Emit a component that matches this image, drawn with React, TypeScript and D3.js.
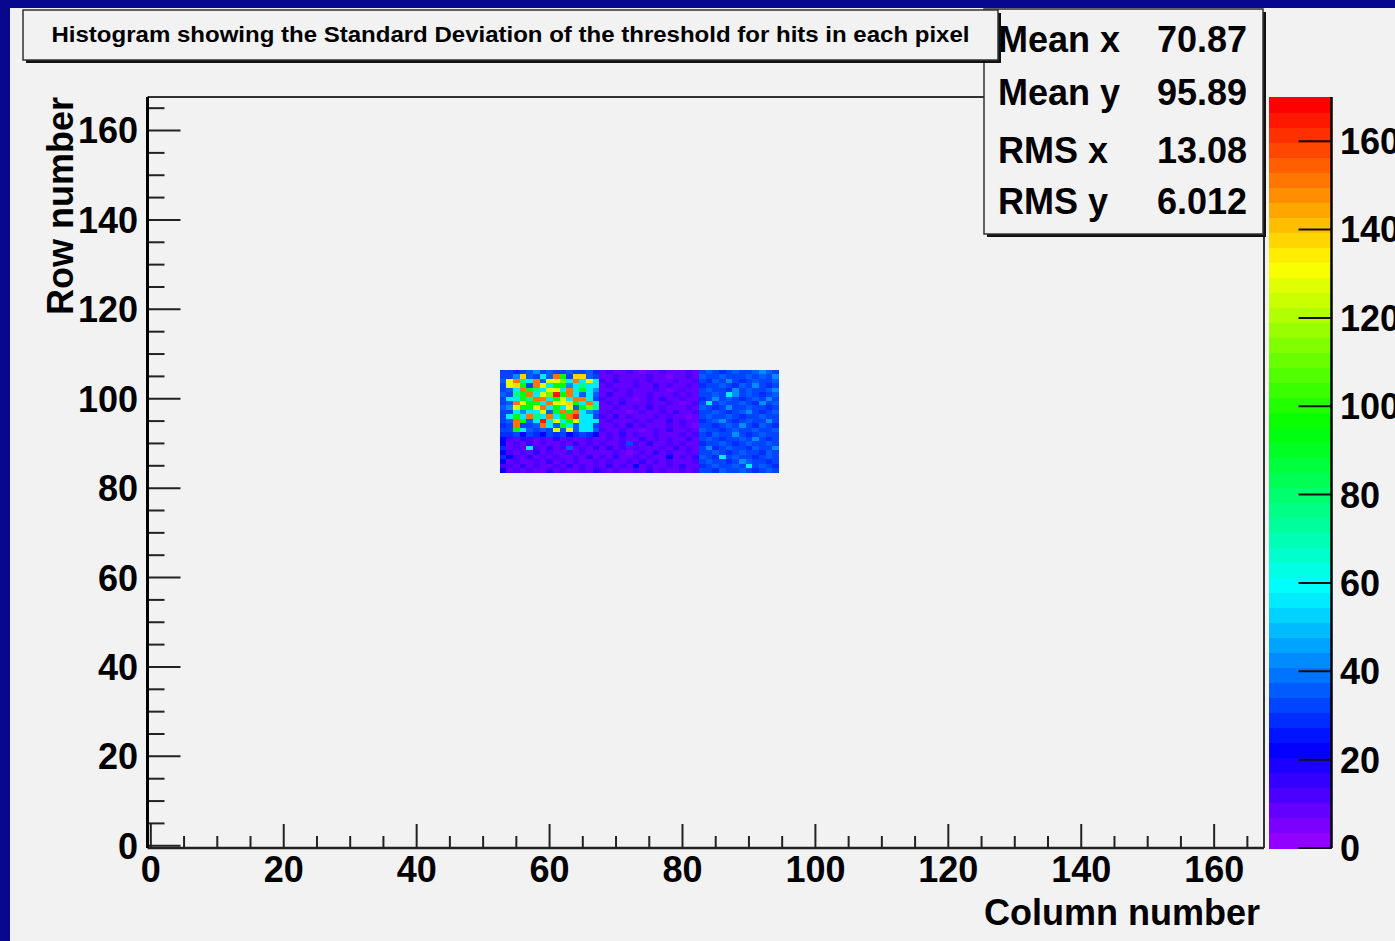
import React from "react";
import * as d3 from "d3";

const WIDTH = 1395;
const HEIGHT = 941;
const FONT = "'Liberation Sans', Arial, Helvetica, sans-serif";

const TITLE = "Histogram showing the Standard Deviation of the threshold for hits in each pixel";
const X_TITLE = "Column number";
const Y_TITLE = "Row number";

const AXIS_TICKS = [0, 20, 40, 60, 80, 100, 120, 140, 160];
const PALETTE_TICKS = [0, 20, 40, 60, 80, 100, 120, 140, 160];
const MINOR_STEP = 5;

const STAT_LABELS = ["Mean x", "Mean y", "RMS x", "RMS y"];
const STAT_VALUES = ["70.87", "95.89", "13.08", "6.012"];

// one bin per pixel, bins centred on the integer column / row number
const AXIS_MIN = -0.5;
const AXIS_MAX = 167.5;
const Z_MAX = 170;
const N_COLORS = 50;

// the filled part of the histogram starts at column 53, top row 106
const FIRST_COLUMN = 53;
const TOP_ROW = 106;

const LEVEL: Record<string, number> = {
  ".": 5, "-": 9, "=": 12, "~": 16, d: 22, b: 28, B: 32, a: 36, A: 42,
  c: 57, C: 62, s: 75, g: 95, l: 110, y: 128, Y: 136, o: 150, r: 166,
};

// column 53, top row to bottom row
const EDGE_COLUMN = "BBaBBaBBaBBBbBbddbdbd=d";

// columns 54..67
const LEFT_BLOCK = [
  "BbBaABaBBaBBab",
  "BAYaBcaogBYYaB",
  "yoscoayylcocyc",
  "yYgBoycggAcscc",
  "acogscyycocgcA",
  "Bsgocylrgocaca",
  "ccgsoocgycoocB",
  "aoyggcoyyYgcoc",
  "Ayggyocgcyagls",
  "BcAccyagogocAa",
  "cgcoscocgorccB",
  "aogacrcycgyccc",
  "BoBBaocagcaccB",
  "BgcaBaByayacca",
  "bBdBbdBbBdbBbd",
  "=-~=-=-~-=--=-",
  "-=-~-=--=-~-=-",
  "-=-c=-~-=a-=-~",
  "=-=-~-=--=-=--",
  "d=-~-=-=--=-~-",
  "-=--=-~-=-=--=",
  "=-~-=--=-~-=-=",
  "-=-=--~-=--=-~",
];

// columns 68..82
const MIDDLE_BLOCK = [
  "-=--=-.--=---=-",
  "--=----=--.--=-",
  "=-~--=-=---=--=",
  "-=---=--~-=--=-",
  "--=-=---=-.-=--",
  "-~--=--=---=-=-",
  "=--=-.-=-~--=--",
  "-=-~---=--=-.-=",
  "--=--=-~-=---=-",
  "-=--.-=--=-~--=",
  "=-~-=---=-=--.-",
  "-=---=-=--~-=--",
  "--=-~-=---=-=-.",
  "=--=--.-=-~--=-",
  "-=-~-=--=---=-=",
  "-=-=--~-=-=--~-",
  "=--=B=-~--=-=--",
  "-~-=-=---=-~-=-",
  "--=-.-=-~-=--=-",
  "=-~--=-=--d-=-~",
  "-=--=-~-=-=---=",
  "-~-=-d-=--=-~--",
  "=-=--=-~-=--=-=",
];

// columns 83..94
const RIGHT_BLOCK = [
  "BaBbBaBBaAaB",
  "aBBaBBBaBaBA",
  "BbaBABbBaBBa",
  "bBBaBbaBABbB",
  "BaBBbABaBBaA",
  "BBaBcABaBbBa",
  "bBABaBbBaBAB",
  "BcBaBBaBbABa",
  "aBbBABBaBBbB",
  "BBaBbBaABbBa",
  "BaBBaBbBBaBB",
  "bBaABbBaBBAB",
  "BBbBaBABbaBb",
  "aBBbBaBBaBBa",
  "BbaBBABbBaBB",
  "BaBbBBaBABbB",
  "bBBaBbBaBBaB",
  "BAbBaBBbaBBA",
  "BBaBbBaBBbaB",
  "aBbcBaBBbBaB",
  "BaBBbBAaBBbB",
  "bBaBBaBcBaBb",
  "BBbaBBaBbBaB",
];

// ROOT "pretty" palette: 50 hues from violet down to red
const paletteColor = (i: number) =>
  d3.hsl(280 - ((i + 1) * 280) / N_COLORS, 1, 0.5).formatHex();
const colorIndex = (z: number) =>
  Math.min(N_COLORS - 1, Math.floor((z / Z_MAX) * N_COLORS));

export default function App() {
  // frame of the plot
  const x = d3.scaleLinear().domain([AXIS_MIN, AXIS_MAX]).range([147.5, 1264]);
  const y = d3.scaleLinear().domain([AXIS_MIN, AXIS_MAX]).range([848, 97]);
  // colour palette on the right
  const z = d3.scaleLinear().domain([0, Z_MAX]).range([848, 97]);

  const cells = EDGE_COLUMN.split("").flatMap((edge, k) => {
    const row = edge + LEFT_BLOCK[k] + MIDDLE_BLOCK[k] + RIGHT_BLOCK[k];
    return row.split("").map((ch, j) => ({
      col: FIRST_COLUMN + j,
      row: TOP_ROW - k,
      z: LEVEL[ch],
    }));
  });

  const minor = d3.range(0, AXIS_MAX, MINOR_STEP).filter((v) => v % 20 !== 0);
  const bands = d3.range(N_COLORS);

  const [x0, x1] = x.range();
  const [yb, yt] = y.range();

  return (
    <svg
      width={WIDTH}
      height={HEIGHT}
      style={{ position: "absolute", left: 0, top: 0, fontFamily: FONT }}
    >
      <rect width={WIDTH} height={HEIGHT} fill="#08088f" />
      <rect x={10} y={8} width={WIDTH - 10} height={HEIGHT - 8} fill="#f2f2f2" />

      {/* bins */}
      <g shapeRendering="crispEdges">
        {cells.map((c) => (
          <rect
            key={`${c.col}-${c.row}`}
            x={x(c.col - 0.5)}
            y={y(c.row + 0.5)}
            width={x(c.col + 0.5) - x(c.col - 0.5) + 0.5}
            height={y(c.row - 0.5) - y(c.row + 0.5) + 0.5}
            fill={paletteColor(colorIndex(c.z))}
          />
        ))}
      </g>

      {/* frame */}
      <line x1={x0} x2={x1} y1={yt} y2={yt} stroke="#333" strokeWidth={2} />
      <line x1={x1} x2={x1} y1={yt} y2={yb} stroke="#333" strokeWidth={2} />

      {/* x axis */}
      <line x1={x0} x2={x1} y1={yb} y2={yb} stroke="#222" strokeWidth={2.5} />
      {AXIS_TICKS.map((v) => (
        <g key={`x${v}`} transform={`translate(${x(v)},0)`}>
          <line y1={yb} y2={yb - 24} stroke="#222" strokeWidth={2} />
          <text y={882} textAnchor="middle" fontSize={36} fontWeight="bold">
            {v}
          </text>
        </g>
      ))}
      {minor.map((v) => (
        <line key={`xm${v}`} x1={x(v)} x2={x(v)} y1={yb} y2={yb - 12} stroke="#222" strokeWidth={2} />
      ))}
      <text x={1260} y={925} textAnchor="end" fontSize={36} fontWeight="bold">
        {X_TITLE}
      </text>

      {/* y axis */}
      {AXIS_TICKS.map((v) => (
        <g key={`y${v}`} transform={`translate(0,${y(v)})`}>
          <line x1={x0} x2={x0 + 33} stroke="#222" strokeWidth={2} />
          <text x={138} dy="0.36em" textAnchor="end" fontSize={36} fontWeight="bold">
            {v}
          </text>
        </g>
      ))}
      {minor.map((v) => (
        <line key={`ym${v}`} x1={x0} x2={x0 + 17} y1={y(v)} y2={y(v)} stroke="#222" strokeWidth={2} />
      ))}
      <line x1={x0} x2={x0} y1={yt} y2={yb} stroke="#000" strokeWidth={3} />
      <text
        transform={`translate(73,${yt}) rotate(-90)`}
        textAnchor="end"
        fontSize={36}
        fontWeight="bold"
      >
        {Y_TITLE}
      </text>

      {/* palette */}
      <g shapeRendering="crispEdges">
        {bands.map((i) => (
          <rect
            key={`p${i}`}
            x={1269}
            width={62.5}
            y={z(((i + 1) * Z_MAX) / N_COLORS)}
            height={z((i * Z_MAX) / N_COLORS) - z(((i + 1) * Z_MAX) / N_COLORS) + 0.5}
            fill={paletteColor(i)}
          />
        ))}
      </g>
      <line x1={1331.5} x2={1331.5} y1={z(Z_MAX)} y2={z(0)} stroke="#000" strokeWidth={2.5} />
      {PALETTE_TICKS.map((v) => (
        <g key={`z${v}`} transform={`translate(0,${z(v)})`}>
          <line x1={1298.5} x2={1331.5} stroke="#111" strokeWidth={2} />
          <text x={1340} dy="0.36em" fontSize={36} fontWeight="bold">
            {v}
          </text>
        </g>
      ))}

      {/* statistics box */}
      <rect x={987} y={12} width={279} height={225} fill="#111" />
      <rect x={984} y={9} width={279} height={225} fill="#f2f2f2" stroke="#333" strokeWidth={1.5} />
      {STAT_LABELS.map((label, i) => (
        <g key={label} fontSize={36} fontWeight="bold">
          <text x={998} y={[52, 105, 163, 214][i]}>{label}</text>
          <text x={1247} y={[52, 105, 163, 214][i]} textAnchor="end">
            {STAT_VALUES[i]}
          </text>
        </g>
      ))}

      {/* title box */}
      <rect x={26} y={13} width={975} height={50} fill="#111" />
      <rect x={23} y={10} width={975} height={50} fill="#f2f2f2" stroke="#333" strokeWidth={1.5} />
      <text
        x={510.5}
        y={42}
        textAnchor="middle"
        fontSize={22}
        fontWeight="bold"
        textLength={918}
        lengthAdjust="spacingAndGlyphs"
      >
        {TITLE}
      </text>
    </svg>
  );
}
